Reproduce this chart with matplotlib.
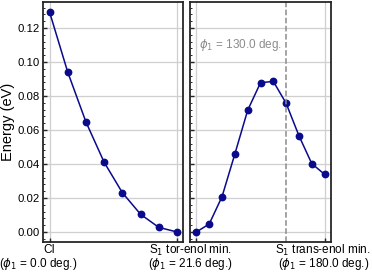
import matplotlib
matplotlib.use("Agg")
import matplotlib.pyplot as plt
from matplotlib.ticker import AutoMinorLocator

plt.rcParams['font.family'] = ['Liberation Sans', 'DejaVu Sans']
plt.rcParams['mathtext.fontset'] = 'dejavusans'

# Left panel: CI -> S1 tor-enol min.
left_energy = [0.1294, 0.094, 0.0647, 0.041, 0.0231, 0.0104, 0.0027, 0.0]
# Right panel: S1 tor-enol min. -> S1 trans-enol min.
right_energy = [0.0, 0.0047, 0.0208, 0.0459, 0.0716, 0.0878, 0.0886, 0.0757,
                0.0566, 0.0402, 0.0339]
left_tick_line1 = ["CI", "S$_1$ tor-enol min."]
left_tick_line2 = ["($\\phi_1$ = 0.0 deg.)", "($\\phi_1$ = 21.6 deg.)"]
right_tick_line1 = "S$_1$ trans-enol min."
right_tick_line2 = "($\\phi_1$ = 180.0 deg.)"
marker_index = 7
marker_label = "$\\phi_1$ = 130.0 deg."
yticks = [0.00, 0.02, 0.04, 0.06, 0.08, 0.10, 0.12]

W, H = 372, 272
fig = plt.figure(figsize=(W / 100, H / 100), dpi=100)
ax1 = fig.add_axes([43 / W, 1 - 242 / H, 140 / W, 240 / H])
ax2 = fig.add_axes([190 / W, 1 - 242 / H, 141 / W, 240 / H])

line_color = '#0a0a8c'
grid_color = '#cfcfcf'
spine_color = '#262626'
fs = 8.5

for ax in (ax1, ax2):
    ax.set_ylim(-0.0059, 0.1353)
    ax.set_yticks(yticks)
    ax.yaxis.set_minor_locator(AutoMinorLocator(5))
    ax.grid(True, color=grid_color, linewidth=0.9)
    ax.set_axisbelow(True)
    for s in ax.spines.values():
        s.set_color(spine_color)
        s.set_linewidth(1.3)
    ax.tick_params(axis='both', which='major', direction='in', length=3,
                   width=1.0, color=spine_color, labelsize=8.2, pad=2)
    ax.tick_params(axis='y', which='minor', direction='in', length=1.6,
                   width=0.7, color=spine_color)


def two_line_label(ax, x, line1, line2, dx):
    tr = ax.get_xaxis_transform()
    ax.annotate(line1 + "\n" + line2, xy=(x, 0), xycoords=tr, xytext=(dx, -0.8),
                textcoords='offset points', ha='center', va='top',
                multialignment='center', linespacing=0.82, fontsize=fs)


# Left panel
xl = list(range(len(left_energy)))
ax1.plot(xl, left_energy, '-o', color=line_color, lw=1.1, ms=4.6)
ax1.set_xlim(-0.36, len(left_energy) - 1 + 0.33)
ax1.set_xticks([0, len(left_energy) - 1])
ax1.set_xticklabels(["", ""])
ax1.set_yticklabels([f"{v:.2f}" for v in yticks])
ax1.set_ylabel("Energy (eV)", fontsize=10.5, labelpad=2)
tr1 = ax1.get_xaxis_transform()
ax1.annotate(left_tick_line1[0], xy=(0, 0), xycoords=tr1, xytext=(0, -1.2),
             textcoords='offset points', ha='center', va='top', fontsize=fs)
ax1.annotate(left_tick_line2[0], xy=(0, 0), xycoords=tr1, xytext=(-8.5, -10.0),
             textcoords='offset points', ha='center', va='top', fontsize=fs)
two_line_label(ax1, len(left_energy) - 1, left_tick_line1[1], left_tick_line2[1], 10)

# Right panel
xr = list(range(len(right_energy)))
ax2.plot(xr, right_energy, '-o', color=line_color, lw=1.1, ms=4.6)
ax2.set_xlim(-0.5, len(right_energy) - 1 + 0.5)
ax2.set_xticks([0, len(right_energy) - 1])
ax2.set_xticklabels(["", ""])
ax2.tick_params(axis='y', labelleft=False)
two_line_label(ax2, len(right_energy) - 1, right_tick_line1, right_tick_line2, -1)
ax2.axvline(marker_index, color='#8c8c8c', ls='--', lw=1.1)
ax2.annotate(marker_label, xy=(marker_index, 0.110), xytext=(-3, 0),
             textcoords='offset points', ha='right', va='center',
             color='#8c8c8c', fontsize=fs)

fig.savefig("out.png", dpi=100)
